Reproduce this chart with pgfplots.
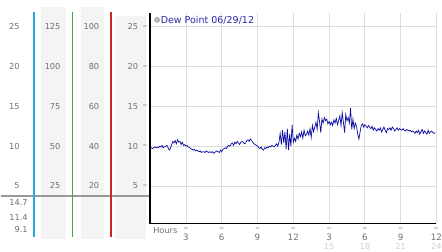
\documentclass[border=0pt]{standalone}
\usepackage{pgfplots}
\pgfplotsset{compat=1.18}
\usepackage{pgfplotstable}
\usepackage{fontspec}
\setmainfont{DejaVu Sans}
\definecolor{lab}{RGB}{112,112,112}
\definecolor{lab2}{RGB}{208,208,208}
\definecolor{markc}{RGB}{160,160,160}
\definecolor{bgc}{RGB}{244,244,244}
\definecolor{gridc}{RGB}{221,221,221}
\definecolor{dew}{RGB}{10,10,160}
\definecolor{legtxt}{RGB}{40,40,168}
\definecolor{mycyan}{RGB}{40,170,220}
\definecolor{mygreen}{RGB}{61,170,61}
\definecolor{myred}{RGB}{200,40,40}
\pgfplotstableread{
v
9.7
9.8
9.7
9.8
9.9
9.8
9.9
9.8
10.0
9.9
10.1
9.8
9.9
10.0
10.1
9.8
9.5
9.7
10.2
10.6
10.4
10.7
10.3
10.8
10.5
10.6
10.2
10.5
10.1
10.2
10.0
10.1
9.9
9.8
9.7
9.6
9.5
9.6
9.4
9.5
9.4
9.3
9.4
9.2
9.3
9.3
9.2
9.4
9.3
9.2
9.3
9.2
9.3
9.1
9.2
9.3
9.4
9.3
9.2
9.5
9.3
9.6
9.7
9.8
9.7
10.0
10.1
10.0
10.3
10.4
10.1
10.5
10.3
10.6
10.4
10.2
10.5
10.6
10.5
10.3
10.4
10.7
10.8
10.6
10.9
10.7
10.5
10.3
10.2
10.1
10.0
9.8
9.7
9.9
9.6
9.5
9.8
9.7
9.9
9.8
10.0
9.9
10.1
10.0
9.9
10.1
10.3
10.0
10.5
11.6
10.2
12.0
10.4
11.8
9.6
12.2
9.5
11.5
10.0
12.7
10.5
11.0
10.6
11.4
10.9
11.6
11.2
11.8
11.0
12.0
11.3
11.5
11.9
11.4
12.2
11.1
12.6
11.8
12.4
13.0
12.1
14.2
13.1
11.7
13.4
12.9
13.6
13.2
13.4
12.8
13.1
12.7
13.0
12.6
13.3
12.9
13.5
12.7
13.2
13.8
12.6
14.2
13.0
11.7
14.0
13.2
13.6
12.9
14.8
12.1
13.4
12.2
12.9
12.5
11.5
10.9
11.8
12.6
12.8
12.4
12.7
12.5
12.3
12.6
12.4
12.2
12.5
12.0
12.3
12.1
11.9
12.2
12.0
12.3
11.8
12.1
12.4
12.0
11.7
12.2
12.1
12.3
12.0
12.4
12.2
11.9
12.1
12.3
12.0
12.2
12.1
12.0
12.2
12.0
11.9
12.1
12.0
11.9
12.0
11.8
11.9
11.8
11.6
11.9
11.7
12.0
11.5
11.8
12.1
11.6
11.9
11.7
11.5
12.0
11.6
11.8
11.9
11.7
11.6
11.7
}\dewtable
\begin{document}
\begin{tikzpicture}[x=1bp,y=1bp,font=\fontsize{8.3}{9}\selectfont]
\path (0,0) rectangle (442,253);
% left panel backgrounds
\fill[bgc] (40,13) rectangle (65,246);
\fill[bgc] (80,13) rectangle (104,246);
\fill[bgc] (115,13) rectangle (146,237);
% separator line
\draw[color=black!40, line width=2bp] (0,56) -- (149,56);
% coloured verticals
\fill[fill=mycyan] (32,15) rectangle (34,241);
\fill[fill=mygreen] (71.3,15) rectangle (72.7,241);
\fill[fill=myred] (110,15) rectangle (112,241);
% left labels
\foreach \v/\a/\b in {5/25/20,10/50/40,15/75/60,20/100/80,25/125/100}{
  \node[text=lab, anchor=east, inner sep=0] at (19,26+8*\v) {\v};
  \node[text=lab, anchor=east, inner sep=0] at (60,26+8*\v) {\a};
  \node[text=lab, anchor=east, inner sep=0] at (99,26+8*\v) {\b};
  \node[text=lab, anchor=east, inner sep=0] at (138,26+8*\v) {\v};
  \node[text=markc, inner sep=0, font=\fontsize{6}{6}\selectfont] at (145,26+8*\v) {≈};
}
\node[text=lab, anchor=east, inner sep=0] at (27,49) {14.7};
\node[text=lab, anchor=east, inner sep=0] at (27,34) {11.4};
\node[text=lab, anchor=east, inner sep=0] at (27,22) {9.1};
% main axis
\begin{axis}[
  at={(150bp,28bp)}, anchor=origin,
  scale only axis, width=288bp, height=212bp,
  xmin=0, xmax=24, ymin=0.25, ymax=26.75,
  axis lines=left, axis line style={black, line width=1.5bp, -},
  xtick={3,6,...,24}, ytick={5,10,...,25},
  xticklabels={}, yticklabels={},
  major tick length=0pt,
  grid=major, major grid style={gridc, line width=0.8bp},
  clip=false,
]
\addplot[dew, line width=0.7bp, mark=none] table[x expr=\coordindex*0.1, y=v] {\dewtable};
\end{axis}
% legend
\filldraw[fill=black!25, draw=black!45, line width=0.5bp] (157,233) circle (2.5);
\node[text=legtxt, anchor=west, inner sep=0, font=\fontsize{9.6}{10}\selectfont] at (160.5,233) {Dew Point 06/29/12};
% x labels
\node[text=lab, anchor=west, inner sep=0] at (153,21) {Hours};
\foreach \h/\t in {3/3,6/6,9/9,12/12,15/3,18/6,21/9,24/12}{
  \node[text=lab, inner sep=0, font=\fontsize{8.8}{9}\selectfont] at (150+12*\h,14) {\t};
  \node[text=markc, inner sep=0, font=\fontsize{6}{6}\selectfont] at (150+12*\h,22.5) {≈};
}
\foreach \h in {15,18,21,24}{
  \node[text=lab2, inner sep=0] at (150+12*\h,5) {\h};
}
\end{tikzpicture}
\end{document}
